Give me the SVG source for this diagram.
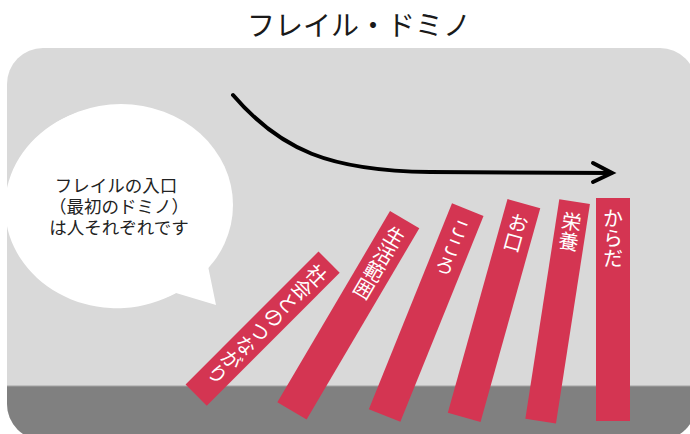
<svg xmlns="http://www.w3.org/2000/svg" width="690" height="434" viewBox="0 0 690 434">
<style>
.jp{font-family:"Noto Sans CJK JP","Noto Sans",sans-serif}
.title{font-size:28px;fill:#1a1a1a}
.bub{font-size:17.5px;fill:#222}
.dom{fill:#d43552}
.dt{font-size:20px;fill:#ffffff;writing-mode:vertical-rl}
.arrow{fill:none;stroke:#000;stroke-width:4;stroke-linecap:round;stroke-linejoin:miter}
</style>
<defs>
<clipPath id="panelClip"><rect x="7" y="48" width="689" height="392" rx="36"/></clipPath>
</defs>
<rect width="690" height="434" fill="#ffffff"/>
<g id="title"><text class="jp title" x="359" y="24" text-anchor="middle" dominant-baseline="central">フレイル・ドミノ</text></g>
<g id="panel" clip-path="url(#panelClip)">
<rect x="7" y="48" width="689" height="392" fill="#d9d9d9"/>
<rect x="0" y="386" width="690" height="60" fill="#808080"/>
<line x1="0" y1="386" x2="690" y2="386" stroke="#a3a3a3" stroke-width="1"/>
</g>
<g id="bubble">
<path d="M176,293 L216,305 L208,266 A112,101 0 1 0 176,293 Z" fill="#ffffff"/>
<ellipse cx="121" cy="205" rx="112" ry="101" fill="#ffffff"/>
<text class="jp bub" text-anchor="middle" dominant-baseline="central"><tspan x="116" y="184">フレイルの入口</tspan><tspan x="119" y="205">（最初のドミノ）</tspan><tspan x="119" y="226">は人それぞれです</tspan></text>
</g>
<g id="connectors">
<path class="arrow" d="M233,95 C280,150 330,171 430,172 L611,173"/>
<path class="arrow" d="M593,163 L612,173 L593,182"/>
</g>
<g id="domino1" transform="translate(318.5,251.5) rotate(45)"><rect class="dom" x="0" y="0" width="30" height="188"/><text class="jp dt" x="15" y="8">社会とのつながり</text></g>
<g id="domino2" transform="translate(390,211) rotate(30.5)"><rect class="dom" x="0" y="0" width="34" height="222"/><text class="jp dt" x="17" y="10">生活範囲</text></g>
<g id="domino3" transform="translate(452,203.3) rotate(22)"><rect class="dom" x="0" y="0" width="34" height="222"/><text class="jp dt" x="17" y="10">こころ</text></g>
<g id="domino4" transform="translate(507.5,199) rotate(15.6)"><rect class="dom" x="0" y="0" width="34" height="222"/><text class="jp dt" x="17" y="10">お口</text></g>
<g id="domino5" transform="translate(559.3,199.3) rotate(8.8)"><rect class="dom" x="0" y="0" width="31" height="222"/><text class="jp dt" x="15.5" y="10">栄養</text></g>
<g id="domino6" transform="translate(596,198)"><rect class="dom" x="0" y="0" width="34" height="223"/><text class="jp dt" x="17" y="10">からだ</text></g>
</svg>
